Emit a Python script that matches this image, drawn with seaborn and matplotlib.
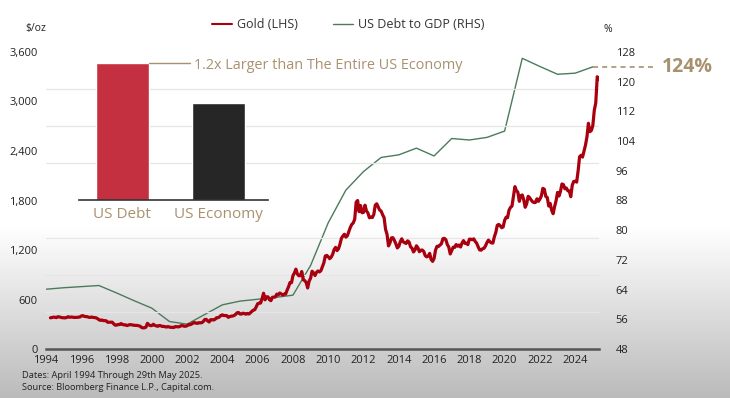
import numpy as np
import pandas as pd
import matplotlib.pyplot as plt
import seaborn as sns
from matplotlib.lines import Line2D
from matplotlib.ticker import MultipleLocator

# gold, monthly $/oz, April 1994 -> May 2025
gold_start = 1994 + 3 / 12
gold_prices = [
    378, 381, 386, 385, 380, 391, 389, 384, 379,                      # 1994
    379, 377, 382, 391, 385, 387, 386, 383, 383, 383, 386, 387,       # 1995
    400, 405, 396, 393, 392, 385, 383, 387, 383, 381, 378, 369,       # 1996
    355, 347, 352, 344, 344, 341, 324, 324, 323, 325, 306, 289,       # 1997
    289, 297, 296, 308, 299, 292, 293, 284, 289, 296, 294, 291,       # 1998
    287, 287, 286, 282, 277, 261, 256, 257, 265, 311, 293, 283,       # 1999
    284, 300, 286, 280, 275, 285, 282, 274, 274, 270, 266, 272,       # 2000
    266, 262, 263, 260, 272, 270, 268, 273, 283, 283, 276, 276,       # 2001
    282, 296, 294, 302, 314, 321, 314, 310, 319, 317, 319, 333,       # 2002
    357, 359, 340, 328, 355, 356, 351, 360, 379, 379, 389, 407,       # 2003
    414, 405, 406, 404, 384, 392, 398, 400, 406, 420, 439, 442,       # 2004
    424, 423, 434, 429, 422, 431, 424, 438, 456, 470, 476, 510,       # 2005
    549, 555, 557, 610, 676, 596, 633, 632, 598, 586, 627, 629,       # 2006
    631, 665, 655, 679, 667, 655, 665, 665, 712, 754, 806, 803,       # 2007
    889, 922, 968, 909, 888, 889, 939, 839, 829, 806, 740, 822,       # 2008
    858, 943, 924, 890, 928, 946, 934, 949, 996, 1043, 1127, 1134,    # 2009
    1118, 1095, 1113, 1148, 1205, 1232, 1193, 1215, 1271, 1343, 1370, 1391,  # 2010
    1356, 1372, 1424, 1473, 1510, 1528, 1572, 1780, 1800, 1665, 1739, 1652,  # 2011
    1656, 1743, 1675, 1649, 1591, 1598, 1594, 1630, 1744, 1760, 1722, 1684,  # 2012
    1671, 1627, 1593, 1450, 1390, 1250, 1286, 1347, 1349, 1316, 1275, 1225,  # 2013
    1244, 1300, 1336, 1299, 1288, 1279, 1311, 1296, 1239, 1222, 1176, 1201,  # 2014
    1251, 1227, 1179, 1198, 1199, 1181, 1131, 1117, 1125, 1159, 1086, 1062,  # 2015
    1097, 1199, 1245, 1243, 1260, 1276, 1337, 1341, 1326, 1267, 1236, 1152,  # 2016
    1192, 1234, 1231, 1266, 1246, 1260, 1236, 1283, 1314, 1280, 1283, 1265,  # 2017
    1331, 1331, 1325, 1335, 1303, 1282, 1238, 1201, 1198, 1215, 1221, 1250,  # 2018
    1291, 1320, 1300, 1286, 1284, 1359, 1413, 1500, 1510, 1494, 1470, 1480,  # 2019
    1560, 1597, 1592, 1683, 1716, 1732, 1847, 1968, 1921, 1900, 1790, 1858,  # 2020
    1867, 1808, 1718, 1760, 1851, 1834, 1807, 1785, 1775, 1777, 1821, 1790,  # 2021
    1817, 1856, 1947, 1937, 1849, 1837, 1733, 1764, 1681, 1640, 1726, 1798,  # 2022
    1898, 1855, 1912, 2000, 1992, 1942, 1951, 1918, 1916, 1846, 1985, 2031,  # 2023
    2033, 2023, 2160, 2331, 2348, 2326, 2398, 2471, 2571, 2736, 2634, 2649,  # 2024
    2708, 2895, 2983, 3300, 3270,                                     # 2025
]

# US debt to GDP, %, yearly
debt_years = list(range(1994, 2026))
debt_to_gdp = [64.1, 64.5, 64.8, 65.1, 63.1, 61.0, 59.0, 55.4, 54.7, 57.3,
               59.9, 60.9, 61.4, 61.9, 62.5, 70.5, 82.0, 90.8, 95.8, 99.6,
               100.3, 102.1, 100.0, 104.7, 104.3, 105.0, 106.7, 126.3, 124.1,
               122.0, 122.3, 124.0]

bar_labels = ["US Debt", "US Economy"]
bar_values = [36.2, 29.3]   # $ trillion

RED = "#a8000f"
GREEN = "#4c7a5c"
TAN = "#a8916f"

gold = pd.DataFrame({"date": gold_start + np.arange(len(gold_prices)) / 12,
                     "price": gold_prices})
debt = pd.DataFrame({"year": debt_years, "ratio": debt_to_gdp})
bars = pd.DataFrame({"label": bar_labels, "value": bar_values})

sns.set_style("white")
plt.rcParams["font.family"] = ["Open Sans", "DejaVu Sans"]

W, H = 730, 398
fig = plt.figure(figsize=(7.3, 3.98), dpi=100)

# grey gradient background
bg = fig.add_axes([0, 0, 1, 1], zorder=-10)
grad = np.ones(H)
ramp = np.linspace(0, 1, H - 225)
grad[225:] = 1 - 0.27 * ramp
bg.imshow(np.repeat(grad[:, None], 2, axis=1), aspect="auto", cmap="gray",
          vmin=0, vmax=1, extent=[0, 1, 0, 1])
bg.axis("off")

ax = fig.add_axes([46 / W, 1 - 349 / H, (599 - 46) / W, (349 - 52) / H])
ax2 = ax.twinx()
ax.set_zorder(ax2.get_zorder() + 1)
ax.patch.set_visible(False)

sns.lineplot(data=debt, x="year", y="ratio", ax=ax2, color=GREEN, lw=1.0)
sns.lineplot(data=gold, x="date", y="price", ax=ax, color=RED, lw=2.3)

ax.set_xlim(1994, 2025.35)
ax.set_ylim(0, 3600)
ax2.set_ylim(48, 128)
ax.set_xticks(range(1994, 2025, 2))
ax.set_yticks(range(0, 3601, 600))
ax2.set_yticks(range(48, 129, 8))
ax.set_yticklabels([f"{v:,}" for v in range(0, 3601, 600)])
ax.yaxis.set_minor_locator(MultipleLocator(450))
ax.grid(which="minor", axis="y", color="#e6e6e6", lw=0.9)
ax.set_xlabel("")
ax.set_ylabel("")
ax2.set_ylabel("")

for a in (ax, ax2):
    for s in a.spines.values():
        s.set_visible(False)
    a.tick_params(length=0, labelsize=8, colors="#222222", which="both")
ax.spines["bottom"].set_visible(True)
ax.spines["bottom"].set_color("#555555")
ax.spines["bottom"].set_linewidth(1.8)
ax.tick_params(axis="y", pad=6)
ax.tick_params(axis="x", pad=4)
ax2.tick_params(axis="y", pad=12)

# 124% marker
ax2.plot([2025, 2028.5], [124, 124], ls=(0, (3, 2.5)), color=TAN, lw=1.2,
         clip_on=False)
ax2.text(2028.9, 124, "124%", color=TAN, fontsize=14, fontweight="bold",
         va="center", ha="left", clip_on=False)

fig.text(25 / W, 1 - 29 / H, "$/oz", fontsize=7.5, color="#222222", va="center")
fig.text(603 / W, 1 - 29 / H, "%", fontsize=7.5, color="#222222", va="center")

handles = [Line2D([], [], color=RED, lw=1.5), Line2D([], [], color=GREEN, lw=1.0)]
fig.legend(handles, ["Gold (LHS)", "US Debt to GDP (RHS)"], loc="center",
           bbox_to_anchor=(0.477, 1 - 25 / H), ncol=2, frameon=False,
           fontsize=9, handlelength=1.6, columnspacing=2.8,
           handletextpad=0.4, labelcolor="#333333")

# inset bar chart
ax_in = fig.add_axes([79 / W, 1 - 200 / H, (268 - 79) / W, (200 - 52) / H],
                     zorder=5)
ax_in.patch.set_visible(False)
sns.barplot(data=bars, x="label", y="value", hue="label",
            palette=["#c53040", "#262626"], width=0.55, legend=False,
            saturation=1, ax=ax_in)
ax_in.set_xlim(-0.45, 1.51)
ax_in.set_ylim(12.5, 38.1)
ax_in.set_yticks([])
ax_in.set_xlabel("")
ax_in.set_ylabel("")
for s in ax_in.spines.values():
    s.set_visible(False)
ax_in.spines["bottom"].set_visible(True)
ax_in.spines["bottom"].set_color("#333333")
ax_in.spines["bottom"].set_linewidth(1.2)
ax_in.tick_params(axis="x", length=0, labelsize=11, colors=TAN, pad=5)
ax_in.plot([0.275, 0.70], [bar_values[0], bar_values[0]], color=TAN, lw=1.0,
           clip_on=False)
ax_in.text(0.74, bar_values[0] - 0.35, "1.2x Larger than The Entire US Economy",
           color=TAN, fontsize=10.4, va="center", ha="left", clip_on=False)

fig.text(22 / W, 1 - 376 / H, "Dates: April 1994 Through 29th May 2025.",
         fontsize=6.7, color="#222222", va="center")
fig.text(22 / W, 1 - 387 / H, "Source: Bloomberg Finance L.P., Capital.com.",
         fontsize=6.7, color="#222222", va="center")

fig.savefig("out.png", dpi=100)
